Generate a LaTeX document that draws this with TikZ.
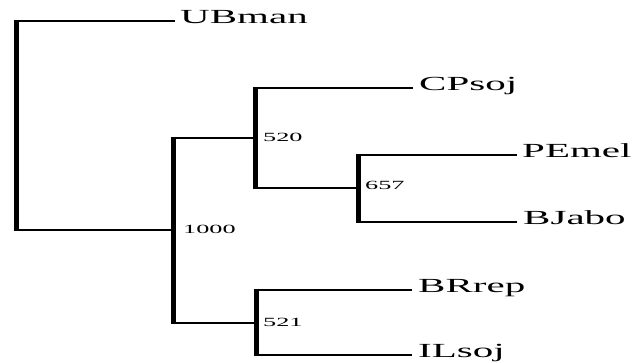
\documentclass[tikz,border=0pt]{standalone}
\usepackage{fontspec}
\setmainfont{Liberation Serif}
\usetikzlibrary{calc}
\newcommand\widetxt[1]{\scalebox{2.05}[1]{#1}}
\newcommand\widenum[1]{\scalebox{2.1}[1]{#1}}
\begin{document}
\begin{tikzpicture}[x=1pt,y=-1pt,
  hbr/.style={line width=2.9pt},
  vbr/.style={line width=5pt},
  leaf/.style={anchor=base west,inner sep=0pt,font=\fontsize{20}{20}\selectfont},
  boot/.style={anchor=base west,inner sep=0pt,font=\fontsize{12.5}{12.5}\selectfont}]
\useasboundingbox (0,0) rectangle (634,362);
% internal node verticals
\coordinate (rT) at (16,21);   \coordinate (rB) at (16,230);
\coordinate (aT) at (173,138); \coordinate (aB) at (173,323); \coordinate (aM) at (173,230);
\coordinate (bT) at (255,88);  \coordinate (bB) at (255,188); \coordinate (bM) at (255,138);
\coordinate (cT) at (358,155); \coordinate (cB) at (358,222); \coordinate (cM) at (358,188);
\coordinate (dT) at (256,290); \coordinate (dB) at (256,355); \coordinate (dM) at (256,323);
% leaf tips
\coordinate (tUB) at (175,21);
\coordinate (tCP) at (413,88);
\coordinate (tPE) at (517,155);
\coordinate (tBJ) at (517,222);
\coordinate (tBR) at (412,290);
\coordinate (tIL) at (412,355);
% verticals
\foreach \n in {r,a,b,c,d}
  \draw[vbr] ($(\n T)+(0,-1.45)$) -- ($(\n B)+(0,1.45)$);
% horizontals
\draw[hbr] (rT) -- (tUB);
\draw[hbr] (rB) -- (aM);
\draw[hbr] (aT) -- (bM);
\draw[hbr] (aB) -- (dM);
\draw[hbr] (bT) -- (tCP);
\draw[hbr] (bB) -- (cM);
\draw[hbr] (cT) -- (tPE);
\draw[hbr] (cB) -- (tBJ);
\draw[hbr] (dT) -- (tBR);
\draw[hbr] (dB) -- (tIL);
% leaf labels
\node[leaf] (UBman) at (180,23.5) {\widetxt{UBman}};
\node[leaf] (CPsoj) at (419,90.5) {\widetxt{CPsoj}};
\node[leaf] (PEmel) at (522,157.5) {\widetxt{PEmel}};
\node[leaf] (BJabo) at (523,224.5) {\widetxt{BJabo}};
\node[leaf] (BRrep) at (418,292.5) {\widetxt{BRrep}};
\node[leaf] (ILsoj) at (418,357.5) {\widetxt{ILsoj}};
% bootstrap values
\node[boot] (b1000) at (183,233) {\widenum{1000}};
\node[boot] (b520) at (263,141) {\widenum{520}};
\node[boot] (b657) at (365,189) {\widenum{657}};
\node[boot] (b521) at (263,326) {\widenum{521}};
\end{tikzpicture}
\end{document}
